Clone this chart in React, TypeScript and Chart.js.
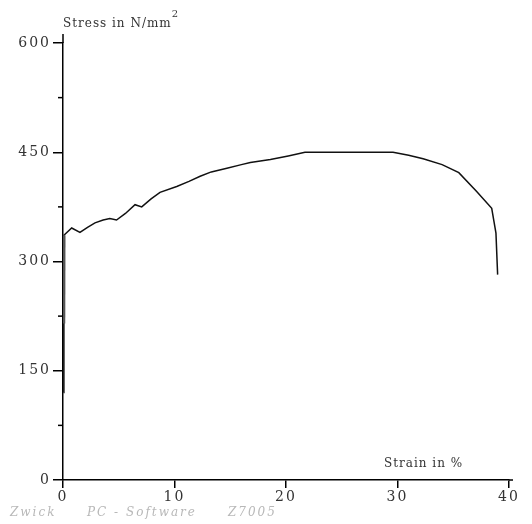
import React, { useEffect, useRef } from "react";
import { Chart, registerables } from "chart.js";

Chart.register(...registerables);

// Tensile test curve (strain in %, stress in N/mm²)
const strain = [0.05, 0.08, 0.78, 1.52, 2.2, 2.87, 3.6, 4.2, 4.8, 5.6, 6.46, 7.06, 7.9, 8.7, 10.2, 11.3, 12.3, 13.3, 14.7, 16.0, 16.8, 18.6, 20.2, 21.7, 25.0, 29.6, 31.0, 32.3, 34.0, 35.5, 37.1, 38.45, 38.65, 38.83, 38.98];
const stress = [120, 336, 346, 340, 347, 353, 357, 359, 357, 366, 378, 375, 386, 395, 403, 410, 417, 423, 428, 433, 436, 440, 445, 450, 450, 450, 446, 441, 433, 422, 396, 373, 355, 339, 282];
const elasticStrain = [0.07, 0.09];
const elasticStress = [215, 336];

const xTickValues = [0, 10, 20, 30, 40];
const yMajorStep = 150;
const yMinorStep = 75;

const yTitle = "Stress in N/mm";
const yTitleSup = "2";
const xTitle = "Strain in %";
const footer = ["Zwick", "PC - Software", "Z7005"];

export default function App() {
  const ref = useRef<HTMLCanvasElement | null>(null);

  useEffect(() => {
    if (!ref.current) return;

    const textPlugin = {
      id: "extras",
      beforeDraw(chart: any) {
        const ctx = chart.ctx;
        ctx.save();
        ctx.fillStyle = "#ffffff";
        ctx.fillRect(0, 0, chart.width, chart.height);
        ctx.restore();
        (ctx as any).letterSpacing = "2px";
      },
      afterDraw(chart: any) {
        const ctx = chart.ctx as CanvasRenderingContext2D;
        const area = chart.chartArea;
        const ys = chart.scales.y;
        ctx.save();
        // minor ticks on y
        ctx.strokeStyle = "#000";
        ctx.lineWidth = 1.5;
        for (let v = yMinorStep; v < 600; v += yMajorStep) {
          const py = ys.getPixelForValue(v);
          ctx.beginPath();
          ctx.moveTo(area.left - 5, py);
          ctx.lineTo(area.left, py);
          ctx.stroke();
        }
        // axis extensions
        ctx.beginPath();
        ctx.moveTo(area.left, area.top);
        ctx.lineTo(area.left, area.top - 9);
        ctx.moveTo(area.right, area.bottom);
        ctx.lineTo(area.right + 4, area.bottom);
        ctx.stroke();

        // titles
        (ctx as any).letterSpacing = "1px";
        ctx.fillStyle = "#333";
        ctx.font = "12px 'DejaVu Serif'";
        ctx.textBaseline = "alphabetic";
        ctx.textAlign = "left";
        ctx.fillText(yTitle, area.left, 27);
        const w = ctx.measureText(yTitle).width;
        ctx.font = "10px 'DejaVu Serif'";
        ctx.fillText(yTitleSup, area.left + w, 17);
        ctx.font = "12px 'DejaVu Serif'";
        ctx.fillText(xTitle, area.right - 125, area.bottom - 13);

        // footer
        ctx.fillStyle = "#b8b8b8";
        ctx.font = "italic 12px 'DejaVu Serif'";
        (ctx as any).letterSpacing = "2px";
        ctx.fillText(footer[0], 10, 516);
        ctx.fillText(footer[1], 87, 516);
        ctx.fillText(footer[2], 228, 516);
        ctx.restore();
      },
    };

    const chart = new Chart(ref.current, {
      type: "scatter",
      data: {
        datasets: [
          {
            data: elasticStrain.map((x, i) => ({ x, y: elasticStress[i] })),
            showLine: true,
            borderColor: "#555",
            borderWidth: 3,
            pointRadius: 0,
          },
          {
            data: strain.map((x, i) => ({ x, y: stress[i] })),
            showLine: true,
            borderColor: "#111",
            borderWidth: 1.5,
            pointRadius: 0,
            tension: 0,
          },
        ],
      },
      options: {
        responsive: false,
        animation: false,
        devicePixelRatio: 1,
        layout: { padding: { top: 43, right: 23, left: 0, bottom: 0 } },
        plugins: { legend: { display: false }, tooltip: { enabled: false } },
        scales: {
          x: {
            type: "linear",
            min: 0,
            max: 40,
            afterFit: (s: any) => {
              s.height = 44;
            },
            afterBuildTicks: (s: any) => {
              s.ticks = xTickValues.map((v) => ({ value: v }));
            },
            border: { display: true, color: "#000", width: 1.5 },
            grid: {
              drawOnChartArea: false,
              drawTicks: true,
              tickLength: 8,
              color: "#000",
              lineWidth: 1.5,
            },
            ticks: {
              color: "#333",
              padding: 1,
              maxRotation: 0,
              font: { family: "'DejaVu Serif'", size: 14 },
            },
          },
          y: {
            type: "linear",
            min: 0,
            max: 600,
            afterFit: (s: any) => {
              s.width = 63;
            },
            border: { display: true, color: "#000", width: 1.5 },
            grid: {
              drawOnChartArea: false,
              drawTicks: true,
              tickLength: 10,
              lineWidth: 1.5,
              color: (c: any) =>
                c.tick && c.tick.value % yMajorStep === 0 ? "#000" : "rgba(0,0,0,0)",
            },
            ticks: {
              stepSize: yMinorStep,
              color: "#333",
              padding: 2,
              font: { family: "'DejaVu Serif'", size: 14 },
              callback: (v: any) => (Number(v) % yMajorStep === 0 ? String(v) : ""),
            },
          },
        },
      },
      plugins: [textPlugin],
    });
    return () => chart.destroy();
  }, []);

  return (
    <div style={{ position: "fixed", left: 0, top: 0, width: 532, height: 524, background: "#fff" }}>
      <canvas ref={ref} width={532} height={524} />
    </div>
  );
}
